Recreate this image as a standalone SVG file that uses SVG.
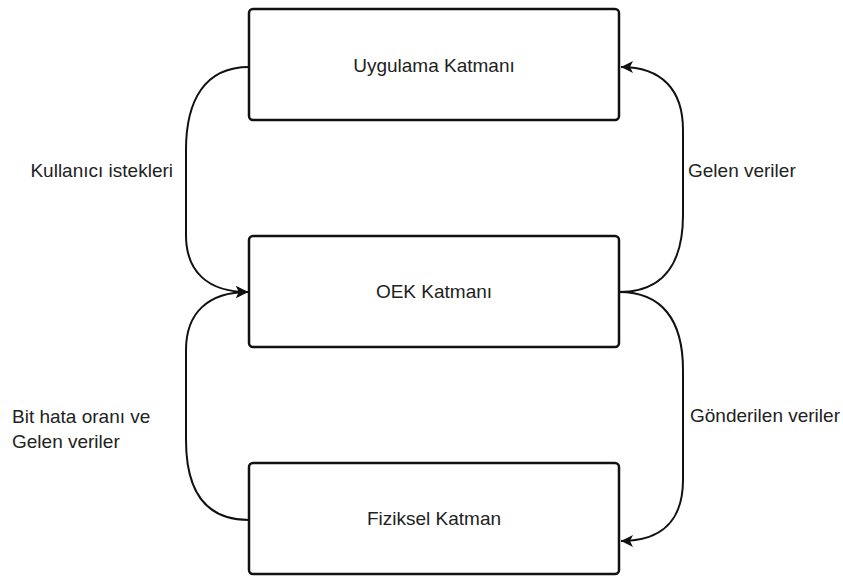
<svg xmlns="http://www.w3.org/2000/svg" width="843" height="576" viewBox="0 0 843 576">
  <style>
    .box { fill: #ffffff; stroke: #111111; stroke-width: 2.5; }
    .lbl { font-family: "Liberation Sans", Arial, sans-serif; font-size: 19px; fill: #222222; }
    .mid { text-anchor: middle; }
    .end { text-anchor: end; }
    .edge { fill: none; stroke: #111111; stroke-width: 2; }
  </style>
  <defs>
    <marker id="arrow" markerUnits="userSpaceOnUse" markerWidth="14" markerHeight="14" refX="13" refY="7" orient="auto">
      <path d="M1,1 L13,7 L1,13 L4,7 Z" fill="#111111"/>
    </marker>
  </defs>
  <rect width="843" height="576" fill="#ffffff"/>

  <g id="connectors">
    <path class="edge" d="M249,67 C205,67 186,100 186,150 L186,235 C186,272 208,292 248,292" marker-end="url(#arrow)"/>
    <path class="edge" d="M249,520 C205,520 186,490 186,440 L186,350 C186,313 208,292 248,292" marker-end="url(#arrow)"/>
    <path class="edge" d="M619,292 C662,292 683,265 683,215 L683,130 C683,90 662,67 621,67" marker-end="url(#arrow)"/>
    <path class="edge" d="M619,292 C662,292 683,320 683,370 L683,480 C683,520 662,541 621,541" marker-end="url(#arrow)"/>
    <text class="lbl end" x="173" y="177">Kullanıcı istekleri</text>
    <text class="lbl" x="12" y="423">Bit hata oranı ve</text>
    <text class="lbl" x="12" y="448">Gelen veriler</text>
    <text class="lbl" x="688" y="177">Gelen veriler</text>
    <text class="lbl" x="690" y="422">Gönderilen veriler</text>
  </g>

  <g id="uygulama">
    <rect class="box" x="249" y="9" width="370" height="111" rx="4"/>
    <text class="lbl mid" x="434" y="72">Uygulama Katmanı</text>
  </g>
  <g id="oek">
    <rect class="box" x="249" y="236" width="370" height="111" rx="4"/>
    <text class="lbl mid" x="434" y="298">OEK Katmanı</text>
  </g>
  <g id="fiziksel">
    <rect class="box" x="249" y="463" width="370" height="111" rx="4"/>
    <text class="lbl mid" x="434" y="525">Fiziksel Katman</text>
  </g>
</svg>
